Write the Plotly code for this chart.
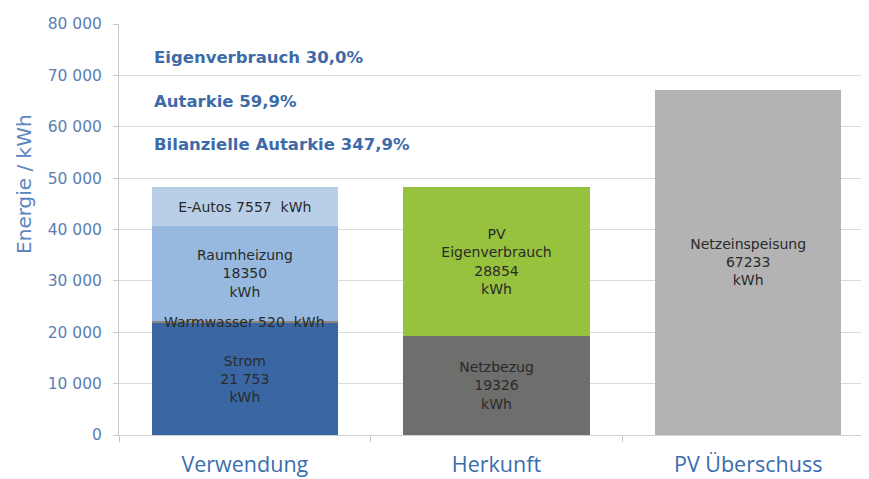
import plotly.graph_objects as go

categories = ["Verwendung", "Herkunft", "PV Überschuss"]

series_names = ["Strom", "Warmwasser", "Raumheizung", "E-Autos",
                "Netzbezug", "PV Eigenverbrauch", "Netzeinspeisung"]
series_cat = ["Verwendung", "Verwendung", "Verwendung", "Verwendung",
              "Herkunft", "Herkunft", "PV Überschuss"]
series_values = [21753, 520, 18350, 7557, 19326, 28854, 67233]
series_labels = [
    "Strom<br>21 753<br>kWh",
    "Warmwasser 520  kWh",
    "Raumheizung<br>18350<br>kWh",
    "E-Autos 7557  kWh",
    "Netzbezug<br>19326<br>kWh",
    "PV<br>Eigenverbrauch<br>28854<br>kWh",
    "Netzeinspeisung<br>67233<br>kWh",
]
series_colors = ["#3A67A3", "#8A8778", "#97B9DF", "#B9CFE7",
                 "#6E6E6C", "#97C23D", "#B3B3B3"]

kpi_texts = ["Eigenverbrauch 30,0%", "Autarkie 59,9%", "Bilanzielle Autarkie 347,9%"]
kpi_y = [73400, 65000, 56600]

y_ticks = [0, 10000, 20000, 30000, 40000, 50000, 60000, 70000, 80000]
y_ticktext = ["0", "10 000", "20 000", "30 000", "40 000", "50 000", "60 000", "70 000", "80 000"]

label_font = dict(family="DejaVu Sans", size=14, color="#2A2A2A")

fig = go.Figure()
for name, cat, val, lab, col in zip(series_names, series_cat, series_values, series_labels, series_colors):
    thin = name == "Warmwasser"
    fig.add_trace(go.Bar(
        x=[cat], y=[val], name=name, text=[lab],
        textposition="none" if thin else "inside", insidetextanchor="middle", textangle=0,
        insidetextfont=label_font,
        marker=dict(color=col, line=dict(width=0)),
        width=0.74, showlegend=False, hoverinfo="skip",
    ))

# label of the thin Warmwasser segment, drawn over the bar
ww = series_names.index("Warmwasser")
fig.add_annotation(x=series_cat[ww], y=sum(series_values[:ww]) + series_values[ww] / 2,
                   xref="x", yref="y", text=series_labels[ww], showarrow=False,
                   xanchor="center", yanchor="middle", font=label_font)

for t, yv in zip(kpi_texts, kpi_y):
    fig.add_annotation(x=-0.37, y=yv, xref="x", yref="y", text="<b>%s</b>" % t,
                       showarrow=False, xanchor="left", yanchor="middle",
                       font=dict(family="DejaVu Sans", size=16.5, color="#3E6BA8"))

# y axis title (placed above centre, as in the original)
fig.add_annotation(x=0, y=0.611, xref="paper", yref="paper", xshift=-95,
                   text="Energie / kWh", textangle=-90, showarrow=False,
                   xanchor="center", yanchor="middle",
                   font=dict(family="DejaVu Sans", size=20, color="#5B86BE"))

fig.update_layout(
    width=866, height=471,
    margin=dict(l=111, r=0, t=16, b=44, autoexpand=False),
    paper_bgcolor="white", plot_bgcolor="white",
    barmode="stack",
    uniformtext=dict(minsize=14, mode="show"),
    xaxis=dict(
        categoryorder="array", categoryarray=categories,
        range=[-0.5, 2.5], automargin=False,
        tickson="boundaries", ticks="outside", ticklen=6, tickcolor="#C8C8C8",
        showline=True, linecolor="#D0D0D0", linewidth=1,
        showgrid=False, ticklabelstandoff=10,
        tickfont=dict(family="Open Sans", size=21.5, color="#3A6DAE"),
    ),
    yaxis=dict(
        range=[0, 80000], tickvals=y_ticks, ticktext=y_ticktext, automargin=False,
        showgrid=True, gridcolor="#DADADA", gridwidth=1,
        showline=True, linecolor="#C8C8C8", linewidth=1,
        ticks="outside", ticklen=5, tickcolor="#C8C8C8",
        zeroline=False, ticklabelstandoff=8,
        tickfont=dict(family="DejaVu Sans", size=15.5, color="#5B7FB2"),
    ),
)

fig.write_html("out.html", default_width="866px", default_height="471px",
               post_script="document.body.style.overflow='hidden';"
                           "document.documentElement.style.overflow='hidden';")
